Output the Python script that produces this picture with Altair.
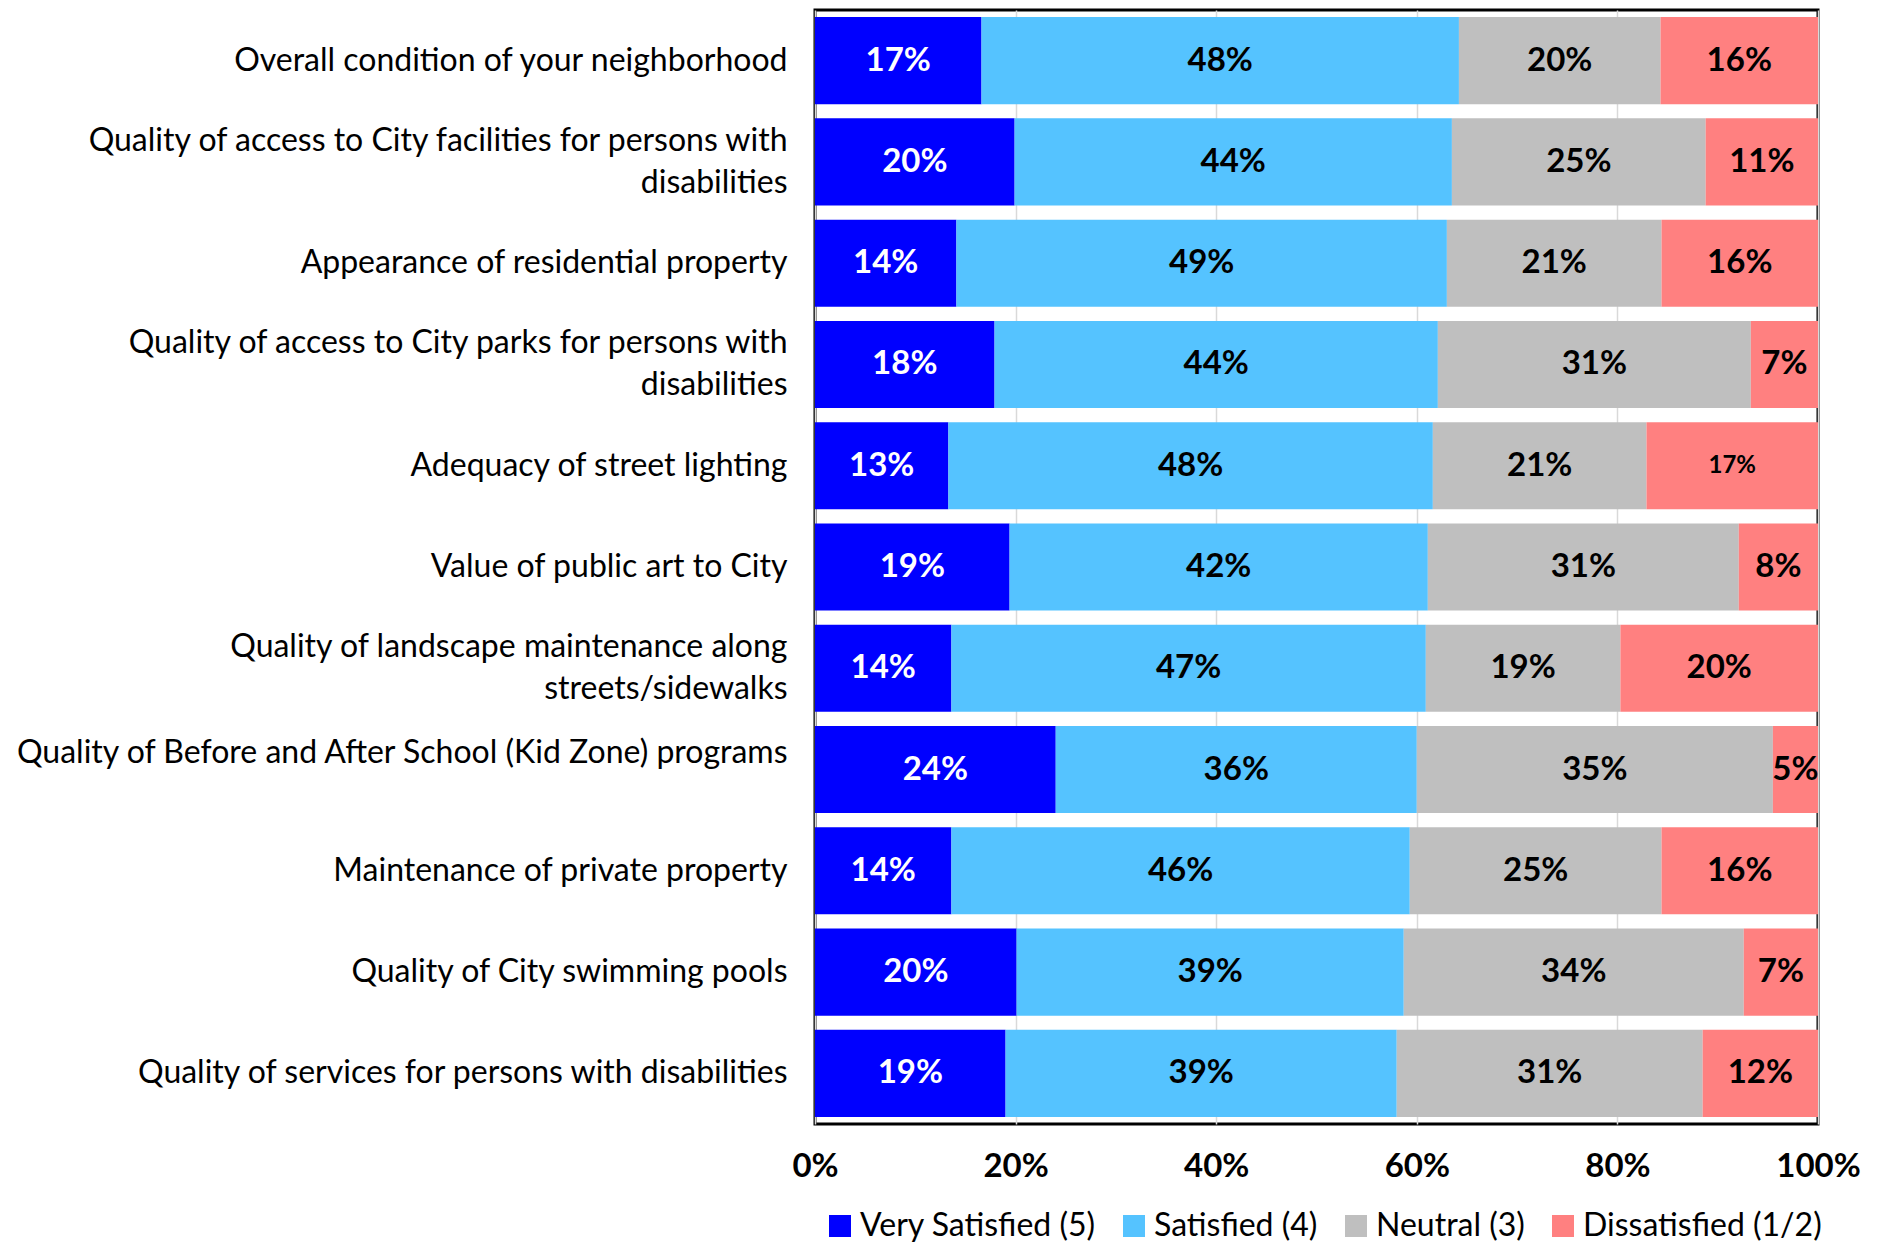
import altair as alt
import pandas as pd

questions = [
    "Overall condition of your neighborhood",
    "Quality of access to City facilities for persons with\ndisabilities",
    "Appearance of residential property",
    "Quality of access to City parks for persons with\ndisabilities",
    "Adequacy of street lighting",
    "Value of public art to City",
    "Quality of landscape maintenance along\nstreets/sidewalks",
    "Quality of Before and After School (Kid Zone) programs",
    "Maintenance of private property",
    "Quality of City swimming pools",
    "Quality of services for persons with disabilities",
]

categories = ["Very Satisfied (5)", "Satisfied (4)", "Neutral (3)", "Dissatisfied (1/2)"]
colors = ["#0000FF", "#55C3FF", "#BFBFBF", "#FF8080"]

very_satisfied = [16.6, 19.9, 14.1, 17.9, 13.3, 19.4, 13.6, 24.0, 13.6, 20.1, 19.0]
satisfied = [47.6, 43.6, 48.9, 44.2, 48.3, 41.7, 47.3, 36.0, 45.7, 38.6, 39.0]
neutral = [20.1, 25.3, 21.4, 31.2, 21.3, 31.0, 19.4, 35.5, 25.1, 33.9, 30.5]
dissatisfied = [15.7, 11.2, 15.6, 6.7, 17.1, 7.9, 19.7, 4.5, 15.6, 7.4, 11.5]

very_satisfied_lbl = [17, 20, 14, 18, 13, 19, 14, 24, 14, 20, 19]
satisfied_lbl = [48, 44, 49, 44, 48, 42, 47, 36, 46, 39, 39]
neutral_lbl = [20, 25, 21, 31, 21, 31, 19, 35, 25, 34, 31]
dissatisfied_lbl = [16, 11, 16, 7, 17, 8, 20, 5, 16, 7, 12]

tick_values = [0, 20, 40, 60, 80, 100]

series = [very_satisfied, satisfied, neutral, dissatisfied]
labels = [very_satisfied_lbl, satisfied_lbl, neutral_lbl, dissatisfied_lbl]

rows = []
for i, q in enumerate(questions):
    for j, cat in enumerate(categories):
        rows.append({
            "question": q,
            "category": cat,
            "order": j,
            "value": series[j][i],
            "label": f"{labels[j][i]}%",
        })
df = pd.DataFrame(rows)

FONT = "Lato"

base = alt.Chart(df).transform_stack(
    stack="value",
    groupby=["question"],
    as_=["v0", "v1"],
    sort=[alt.SortField(field="order", order="ascending")],
).transform_calculate(mid="(datum.v0 + datum.v1) / 2")

y_axis = alt.Axis(
    title=None, ticks=False, domain=False,
    labelExpr="split(datum.label, '\\n')",
    labelFont=FONT, labelFontSize=32, labelColor="black",
    labelPadding=28, labelLimit=900, labelLineHeight=42,
    labelOffset={
        "condition": [
            {"test": "indexof(datum.value, '\\n') >= 0", "value": -21},
            {"test": "indexof(datum.value, 'Kid Zone') >= 0", "value": -17},
        ],
        "value": 0,
    },
)
y_scale = alt.Scale(paddingInner=0.14, paddingOuter=0.07)

x_axis = alt.Axis(
    title=None, values=tick_values,
    labelExpr="datum.value + '%'",
    ticks=False, domain=False, grid=True, labelFlush=False,
    gridColor="#D9D9D9", gridWidth=1.5,
    labelFont=FONT, labelFontSize=33, labelFontWeight="bold",
    labelColor="black", labelPadding=26,
)
x_scale = alt.Scale(domain=[0, 100], nice=False)

bars = base.mark_bar().encode(
    y=alt.Y("question:N", sort=questions, scale=y_scale, axis=y_axis),
    x=alt.X("v0:Q", scale=x_scale, axis=x_axis),
    x2="v1:Q",
    color=alt.Color(
        "category:N",
        sort=categories,
        scale=alt.Scale(domain=categories, range=colors),
        legend=alt.Legend(
            title=None, orient="none", legendX=9, legendY=1200,
            direction="horizontal", symbolType="square", symbolSize=484,
            symbolStrokeWidth=0, symbolOpacity=1,
            labelFont=FONT, labelFontSize=32, labelColor="black",
            labelOffset=4, columnPadding=22, labelLimit=500,
        ),
    ),
)

text = base.mark_text(font=FONT, fontWeight="bold", baseline="middle", align="center").encode(
    y=alt.Y("question:N", sort=questions, scale=y_scale, axis=y_axis),
    x=alt.X("mid:Q", scale=x_scale, axis=x_axis),
    text="label:N",
    color=alt.condition("datum.order == 0", alt.value("white"), alt.value("black")),
    size=alt.condition(
        "datum.order == 3 && datum.question == 'Adequacy of street lighting'",
        alt.value(24), alt.value(33),
    ),
)

chart = alt.layer(bars, text).properties(
    width=1003,
    height=1114,
    autosize=alt.AutoSizeParams(type="none"),
    padding={"left": 807, "top": 2, "right": 55, "bottom": 119},
).configure_view(stroke="black", strokeWidth=3)

chart.save("out.html", embed_options={"renderer": "svg", "actions": False})
